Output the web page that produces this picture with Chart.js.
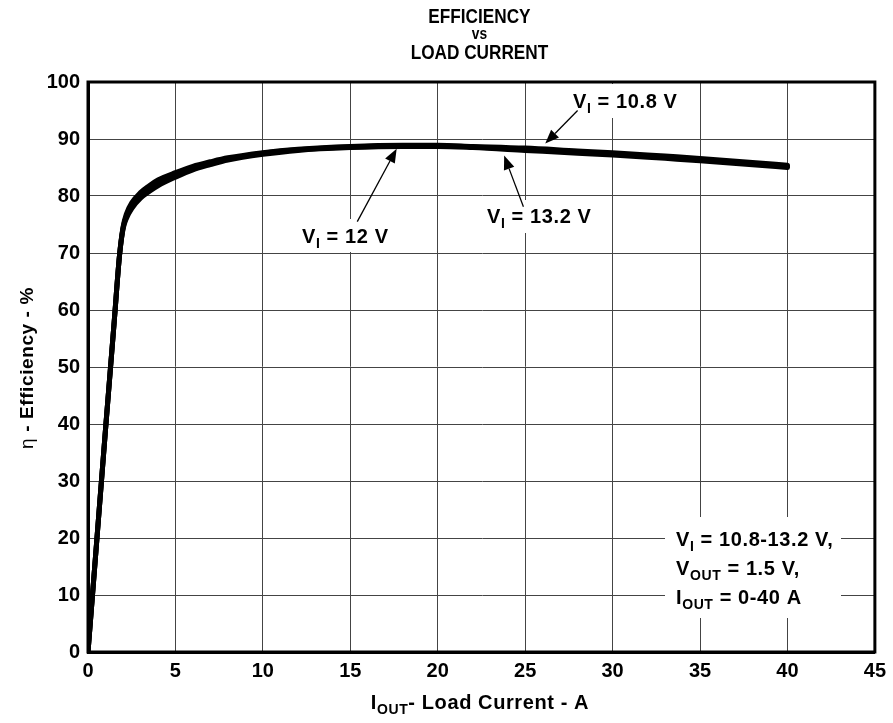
<!DOCTYPE html>
<html>
<head>
<meta charset="utf-8">
<script src="https://cdn.jsdelivr.net/npm/chart.js@4/dist/chart.umd.min.js"></script>
<style>
  html, body { margin: 0; padding: 0; background: #fff; }
  #wrap { width: 893px; height: 723px; }
</style>
</head>
<body>
<div id="wrap"><canvas id="effChart" width="893" height="723"></canvas></div>
<script>
// ---- data ----
const loadCurrent = [0, 0.5, 1, 1.5, 1.8, 2, 2.2, 2.5, 3, 3.5, 4, 5, 6, 7, 8, 10, 12, 15, 18, 20, 22, 25, 28, 30, 33, 35, 38, 40];
const eff12v  = [0, 19.5, 39, 58, 69.5, 74.3, 76.5, 78.3, 80.1, 81.3, 82.3, 83.7, 84.9, 85.8, 86.5, 87.5, 88.1, 88.6, 88.8, 88.8, 88.6, 88.2, 87.7, 87.4, 86.8, 86.4, 85.7, 85.2];
const eff108v = [0, 19.5, 39, 58, 69.5, 74.5, 76.9, 78.8, 80.6, 81.8, 82.8, 84.1, 85.2, 86.0, 86.7, 87.6, 88.2, 88.7, 88.9, 88.9, 88.7, 88.4, 87.9, 87.6, 87.0, 86.6, 85.9, 85.4];
const eff132v = [0, 19.5, 39, 58, 69.5, 74.1, 76.1, 77.8, 79.6, 80.8, 81.8, 83.3, 84.6, 85.5, 86.3, 87.3, 88.0, 88.5, 88.7, 88.7, 88.5, 88.0, 87.5, 87.2, 86.6, 86.2, 85.5, 85.0];
const xTicks = [0, 5, 10, 15, 20, 25, 30, 35, 40, 45];
const yTicks = [0, 10, 20, 30, 40, 50, 60, 70, 80, 90, 100];

// arrows: [fromX, fromY, toX, toY] in data units
const arrows = [
  [15.4, 75.5, 17.65, 88.3],
  [24.9, 78.1, 23.8, 87.1],
  [28.0, 95.0, 26.15, 89.2]
];

const FONT = '"Liberation Sans", Arial, sans-serif';

function pts(ys) {
  return loadCurrent.map((x, i) => ({ x: x, y: ys[i] }));
}

// draws text pieces [text, size, dy] left to right
function rich(ctx, parts, x, y) {
  let cx = x;
  parts.forEach(p => {
    ctx.font = 'bold ' + p[1] + 'px ' + FONT;
    ctx.fillText(p[0], cx, y + (p[2] || 0));
    cx += ctx.measureText(p[0]).width;
  });
  return cx - x;
}
function richWidth(ctx, parts) {
  let w = 0;
  parts.forEach(p => {
    ctx.font = 'bold ' + p[1] + 'px ' + FONT;
    w += ctx.measureText(p[0]).width;
  });
  return w;
}

// condensed title line
function narrowText(ctx, text, size, cx, cy) {
  ctx.save();
  ctx.translate(cx, cy);
  ctx.scale(0.86, 1);
  ctx.font = 'bold ' + size + 'px ' + FONT;
  ctx.fillText(text, 0, 0);
  ctx.restore();
}

const annotPlugin = {
  id: 'annot',
  beforeDatasetsDraw(chart) {
    const ctx = chart.ctx;
    const xs = chart.scales.x, ys = chart.scales.y;
    ctx.save();
    // white boxes behind labels
    ctx.fillStyle = '#fff';
    ctx.fillRect(288, 219, 106, 33);
    ctx.fillRect(484, 200, 108, 33);
    ctx.fillRect(566, 84, 124, 34);
    ctx.fillRect(665, 517, 176, 101);

    ctx.fillStyle = '#000';
    ctx.textBaseline = 'alphabetic';
    ctx.letterSpacing = '0.6px';
    rich(ctx, [['V', 20], ['I', 14, 5], [' = 12 V', 20]], 302, 243);
    rich(ctx, [['V', 20], ['I', 14, 5], [' = 13.2 V', 20]], 487, 223);
    rich(ctx, [['V', 20], ['I', 14, 5], [' = 10.8 V', 20]], 573, 108);
    rich(ctx, [['V', 20], ['I', 14, 5], [' = 10.8-13.2 V,', 20]], 676, 546);
    rich(ctx, [['V', 20], ['OUT', 14, 5], [' = 1.5 V,', 20]], 676, 575);
    rich(ctx, [['I', 20], ['OUT', 14, 5], [' = 0-40 A', 20]], 676, 604);
    ctx.letterSpacing = '0px';

    // arrows
    ctx.strokeStyle = '#000';
    ctx.lineWidth = 1.3;
    arrows.forEach(a => {
      const x1 = xs.getPixelForValue(a[0]), y1 = ys.getPixelForValue(a[1]);
      const x2 = xs.getPixelForValue(a[2]), y2 = ys.getPixelForValue(a[3]);
      const ang = Math.atan2(y2 - y1, x2 - x1);
      const len = 14, half = 5.5;
      const bx = x2 - len * Math.cos(ang), by = y2 - len * Math.sin(ang);
      ctx.beginPath();
      ctx.moveTo(x1, y1);
      ctx.lineTo(bx, by);
      ctx.stroke();
      ctx.beginPath();
      ctx.moveTo(x2, y2);
      ctx.lineTo(bx + half * Math.sin(ang), by - half * Math.cos(ang));
      ctx.lineTo(bx - half * Math.sin(ang), by + half * Math.cos(ang));
      ctx.closePath();
      ctx.fill();
    });
    ctx.restore();
  },
  afterDraw(chart) {
    const ctx = chart.ctx;
    const a = chart.chartArea;
    ctx.save();
    // frame
    ctx.strokeStyle = '#000';
    ctx.lineWidth = 3;
    ctx.strokeRect(a.left, a.top, a.right - a.left, a.bottom - a.top);

    // title
    const cx = (a.left + a.right) / 2 - 2;
    ctx.fillStyle = '#000';
    ctx.textAlign = 'center';
    ctx.textBaseline = 'middle';
    narrowText(ctx, 'EFFICIENCY', 20, cx, 17);
    narrowText(ctx, 'vs', 16, cx, 35);
    narrowText(ctx, 'LOAD CURRENT', 20, cx, 53);

    // x axis title
    ctx.textAlign = 'left';
    ctx.textBaseline = 'alphabetic';
    ctx.letterSpacing = '0.6px';
    const xt = [['I', 20], ['OUT', 14, 5], ['- Load Current - A', 20]];
    rich(ctx, xt, 480 - richWidth(ctx, xt) / 2, 709);
    ctx.letterSpacing = '0px';

    // y axis title
    ctx.translate(33, 368);
    ctx.rotate(-Math.PI / 2);
    ctx.letterSpacing = '0.6px';
    ctx.font = '19px ' + FONT;
    const eta = '\u03B7';
    const etaW = ctx.measureText(eta).width;
    ctx.font = 'bold 19px ' + FONT;
    const rest = ' - Efficiency - %';
    const restW = ctx.measureText(rest).width;
    const sx = -(etaW + restW) / 2;
    ctx.font = '19px ' + FONT;
    ctx.fillText(eta, sx, 0);
    ctx.font = 'bold 19px ' + FONT;
    ctx.fillText(rest, sx + etaW, 0);
    ctx.restore();
  }
};

const lineStyle = {
  borderColor: '#000',
  borderWidth: 5,
  pointRadius: 0,
  fill: false,
  cubicInterpolationMode: 'monotone',
  borderCapStyle: 'round',
  borderJoinStyle: 'round'
};

const effChart = document.getElementById('effChart');

if (effChart) {
  new Chart(effChart, {
    type: 'line',
    data: {
      datasets: [
        Object.assign({ label: 'VI = 10.8 V', data: pts(eff108v) }, lineStyle),
        Object.assign({ label: 'VI = 12 V', data: pts(eff12v) }, lineStyle),
        Object.assign({ label: 'VI = 13.2 V', data: pts(eff132v) }, lineStyle)
      ]
    },
    options: {
      responsive: false,
      animation: false,
      layout: { padding: { top: 82, right: 14, left: 0, bottom: 0 } },
      plugins: {
        legend: { display: false },
        title: { display: false },
        tooltip: { enabled: false }
      },
      scales: {
        x: {
          type: 'linear',
          min: 0,
          max: 45,
          afterBuildTicks(axis) { axis.ticks = xTicks.map(v => ({ value: v })); },
          afterFit(axis) { axis.height = 71; },
          grid: { color: '#444', lineWidth: 1, drawTicks: false },
          border: { color: '#000', width: 3 },
          ticks: {
            color: '#000',
            padding: 7,
            maxRotation: 0,
            font: { family: FONT, size: 20, weight: 'bold' }
          }
        },
        y: {
          min: 0,
          max: 100,
          afterBuildTicks(axis) { axis.ticks = yTicks.map(v => ({ value: v })); },
          afterFit(axis) { axis.width = 88; },
          grid: { color: '#444', lineWidth: 1, drawTicks: false },
          border: { color: '#000', width: 3 },
          ticks: {
            color: '#000',
            padding: 8,
            font: { family: FONT, size: 20, weight: 'bold' }
          }
        }
      }
    },
    plugins: [annotPlugin]
  });
}
</script>
</body>
</html>
